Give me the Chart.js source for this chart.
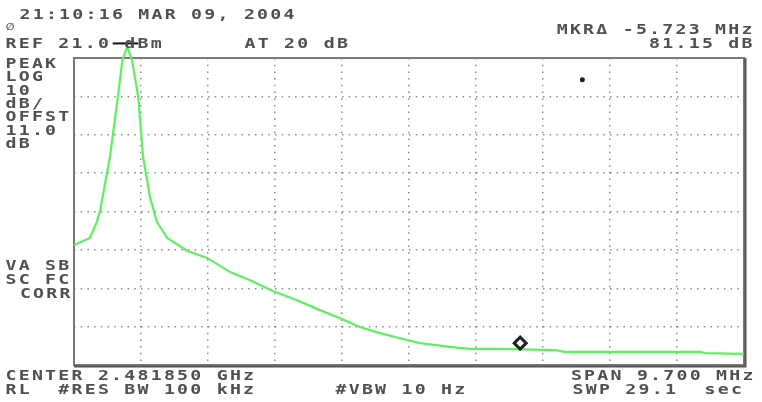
<!DOCTYPE html>
<html>
<head>
<meta charset="utf-8">
<script src="https://cdn.jsdelivr.net/npm/chart.js@4"></script>
<style>
    body { margin: 0; background: #fff; }
    canvas { display: block; }
</style>
</head>
<body>
<canvas id="specChart" width="762" height="402"></canvas>
<script>
// Spectrum analyzer trace, frequency in MHz, level in dBm
const freqMHz = [2477.00, 2477.23, 2477.33, 2477.38, 2477.52, 2477.64, 2477.70, 2477.77, 2477.84, 2477.93,
    2478.00, 2478.10, 2478.20, 2478.35, 2478.64, 2478.93, 2479.26, 2479.55, 2479.88, 2480.23,
    2480.56, 2480.88, 2481.14, 2481.43, 2481.82, 2482.01, 2482.44, 2482.73, 2483.17, 2483.96,
    2484.11, 2484.62, 2486.06, 2486.14, 2486.70];
const levelDbm = [-27.7, -25.9, -21.7, -18.6, -4.8, 11.4, 20.5, 23.9, 20.5, 10.8,
    -4.8, -15.2, -21.7, -25.9, -29.3, -31.1, -34.8, -36.9, -39.7, -42.1,
    -44.7, -47.0, -49.1, -50.7, -52.5, -53.3, -54.3, -54.8, -54.8, -55.1,
    -55.6, -55.6, -55.6, -55.9, -56.1];

// markers
const peakMarker = [{ x: 2477.77, y: 23.9 }];
const deltaMarker = [{ x: 2483.46, y: -53.3 }];
const starMarker = [{ x: 2484.36, y: 15.3 }];
const refBar = [{ x: 2477.56, y: 24.8 }, { x: 2477.93, y: 24.8 }];

// axis setup
const startFreq = 2477.0;
const spanMHz = 9.7;
const refLevel = 21.0;
const dbPerDiv = 10;
const xDivs = 10;
const yDivs = 8;

// annotation text (x, baseline y, align)
const labels = [
    ['21:10:16 MAR 09, 2004', 20, 19, 'left'],
    ['REF 21.0 dBm', 6, 48, 'left'],
    ['AT 20 dB', 245, 48, 'left'],
    ['MKR\u0394 -5.723 MHz', 752, 34, 'right'],
    ['81.15 dB', 752, 48, 'right'],
    ['PEAK', 6, 68, 'left'],
    ['LOG', 6, 81, 'left'],
    ['10', 6, 95, 'left'],
    ['dB/', 6, 108, 'left'],
    ['OFFST', 6, 121, 'left'],
    ['11.0', 6, 135, 'left'],
    ['dB', 6, 148, 'left'],
    ['VA SB', 6, 270, 'left'],
    ['SC FC', 6, 284, 'left'],
    ['CORR', 70, 298, 'right'],
    ['CENTER 2.481850 GHz', 6, 380, 'left'],
    ['SPAN 9.700 MHz', 753, 380, 'right'],
    ['RL  #RES BW 100 kHz', 6, 394, 'left'],
    ['#VBW 10 Hz', 336, 394, 'left'],
    ['SWP 29.1  sec', 573, 394, 'left']
];

const PITCH = 13.2;

function drawMono(ctx, str, x, y, align) {
    let startX = align === 'right' ? x - (str.length - 1) * PITCH - 10 : x;
    for (let i = 0; i < str.length; i++) {
        const cx = startX + i * PITCH + 5;
        ctx.save();
        ctx.translate(cx, y);
        ctx.scale(1.3, 1);
        ctx.fillText(str[i], 0, 0);
        ctx.restore();
    }
}

const framePlugin = {
    id: 'frame',
    beforeDatasetsDraw(chart) {
        const { ctx, chartArea: a } = chart;
        ctx.save();
        ctx.strokeStyle = '#7a7a7a';
        ctx.lineWidth = 2;
        ctx.strokeRect(a.left, a.top, a.right - a.left, a.bottom - a.top);
        // darker right / bottom edge
        ctx.strokeStyle = '#555';
        ctx.beginPath();
        ctx.moveTo(a.right + 1.5, a.top);
        ctx.lineTo(a.right + 1.5, a.bottom + 1.5);
        ctx.lineTo(a.left, a.bottom + 1.5);
        ctx.stroke();
        ctx.restore();
    },
    afterDraw(chart) {
        const ctx = chart.ctx;
        ctx.save();
        ctx.fillStyle = '#505050';
        ctx.font = 'bold 14px "DejaVu Sans Mono"';
        ctx.textAlign = 'center';
        ctx.textBaseline = 'alphabetic';
        labels.forEach(([t, x, y, al]) => drawMono(ctx, t, x, y, al));
        // small instrument logo
        ctx.font = 'italic bold 10px "DejaVu Sans"';
        ctx.textAlign = 'left';
        ctx.fillText('\u2205', 6, 30);
        ctx.restore();
    }
};

const ctx = document.getElementById('specChart');
const specChart = new Chart(ctx.getContext('2d'), {
    type: 'line',
    data: {
        datasets: [
            {
                data: freqMHz.map((f, i) => ({ x: f, y: levelDbm[i] })),
                borderColor: '#5ff05f',
                borderWidth: 2.2,
                pointRadius: 0,
                tension: 0,
                clip: false,
                order: 3
            },
            {
                data: refBar,
                borderColor: '#111',
                borderWidth: 2,
                pointRadius: 0,
                clip: false,
                order: 1
            },
            {
                data: peakMarker,
                showLine: false,
                pointStyle: 'circle',
                pointRadius: 3,
                pointBorderWidth: 1.5,
                pointBorderColor: '#222',
                pointBackgroundColor: '#fff',
                clip: false,
                order: 0
            },
            {
                data: deltaMarker,
                showLine: false,
                pointStyle: 'rectRot',
                pointRadius: 6,
                pointBorderWidth: 3,
                pointBorderColor: '#222',
                pointBackgroundColor: '#fff',
                clip: false,
                order: 0
            },
            {
                data: starMarker,
                showLine: false,
                pointStyle: 'circle',
                pointRadius: 2.5,
                pointBorderWidth: 0,
                pointBackgroundColor: '#222',
                clip: false,
                order: 0
            }
        ]
    },
    options: {
        responsive: false,
        animation: false,
        devicePixelRatio: 1,
        layout: {
            autoPadding: false,
            padding: { left: 74, right: 18, top: 58, bottom: 37 }
        },
        plugins: {
            legend: { display: false },
            tooltip: { enabled: false }
        },
        scales: {
            x: {
                type: 'linear',
                min: startFreq,
                max: startFreq + spanMHz,
                afterBuildTicks: (axis) => {
                    axis.ticks = [];
                    for (let i = 0; i <= xDivs; i++) axis.ticks.push({ value: startFreq + i * spanMHz / xDivs });
                },
                ticks: { display: false },
                grid: { color: '#8c8c8c', lineWidth: 1.5, drawTicks: false },
                border: { display: false, dash: [1.5, 5.2] }
            },
            y: {
                type: 'linear',
                min: refLevel - yDivs * dbPerDiv,
                max: refLevel,
                afterBuildTicks: (axis) => {
                    axis.ticks = [];
                    for (let i = 0; i <= yDivs; i++) axis.ticks.push({ value: refLevel - i * dbPerDiv });
                },
                ticks: { display: false },
                grid: { color: '#8c8c8c', lineWidth: 1.5, drawTicks: false },
                border: { display: false, dash: [1.5, 5.2] }
            }
        }
    },
    plugins: [framePlugin]
});
</script>
</body>
</html>
